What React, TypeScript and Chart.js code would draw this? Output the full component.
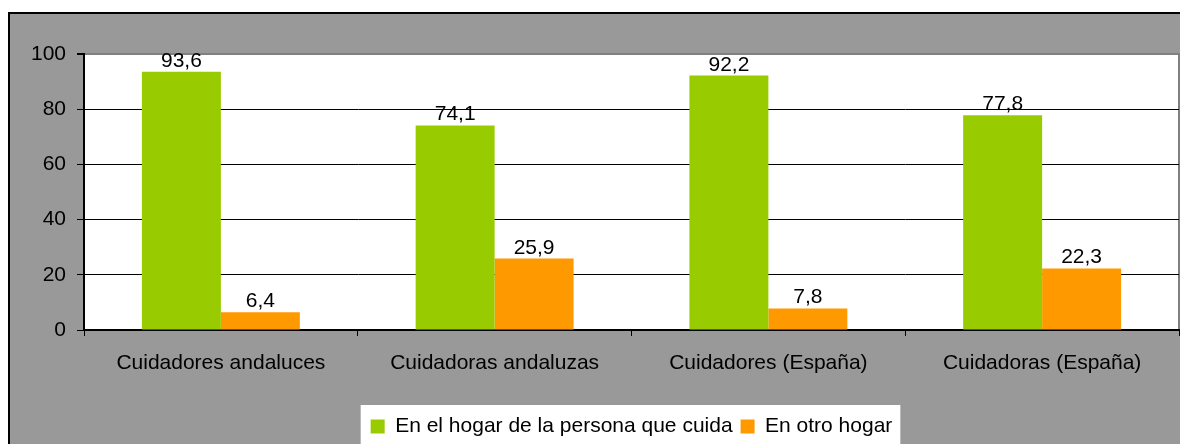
import React, { useEffect, useRef } from 'react';
import { Chart, registerables } from 'chart.js';

Chart.register(...registerables);

const categories = ['Cuidadores andaluces', 'Cuidadoras andaluzas', 'Cuidadores (España)', 'Cuidadoras (España)'];
const seriesNames = ['En el hogar de la persona que cuida', 'En otro hogar'];
const hogarPersonaCuida = [93.6, 74.1, 92.2, 77.8];
const otroHogar = [6.4, 25.9, 7.8, 22.3];
const yMin = 0;
const yMax = 100;
const yStep = 20;

const FONT = 'Liberation Sans, Arial, sans-serif';
const GRAY = '#999999';

const bgPlugin = {
  id: 'bgPlugin',
  afterLayout(chart: any) {
    const lg = chart.legend;
    const ca = chart.chartArea;
    if (lg && ca) {
      const d = (ca.left + ca.right) / 2 - (lg.left + lg.right) / 2;
      lg.left += d;
      lg.right += d;
    }
  },
  beforeDraw(chart: any) {
    const ctx = chart.ctx;
    const w = chart.width;
    const h = chart.height;
    ctx.save();
    ctx.fillStyle = '#ffffff';
    ctx.fillRect(0, 0, w, h);
    ctx.fillStyle = GRAY;
    ctx.fillRect(0, 5, w, h - 5);
    ctx.fillStyle = '#000000';
    ctx.fillRect(0, 4, w, 2);
    ctx.fillRect(0, 4, 2, h - 4);
    const ca = chart.chartArea;
    ctx.fillStyle = '#ffffff';
    ctx.fillRect(ca.left, ca.top, ca.right - ca.left, ca.bottom - ca.top);
    ctx.strokeStyle = '#808080';
    ctx.lineWidth = 2;
    ctx.beginPath();
    ctx.moveTo(ca.left, ca.top);
    ctx.lineTo(ca.right, ca.top);
    ctx.lineTo(ca.right, ca.bottom);
    ctx.stroke();
    const lg = chart.legend;
    if (lg && lg.legendHitBoxes && lg.legendHitBoxes.length) {
      const hb = lg.legendHitBoxes;
      const first = hb[0];
      const last = hb[hb.length - 1];
      const left = first.left - 10;
      const right = last.left + last.width + 8;
      const top = first.top - 11;
      ctx.fillStyle = '#ffffff';
      ctx.fillRect(left, top, right - left, h - top);
    }
    ctx.restore();
  },
};

const labelsPlugin = {
  id: 'valueLabels',
  afterDatasetsDraw(chart: any) {
    const ctx = chart.ctx;
    ctx.save();
    ctx.font = `21px ${FONT}`;
    ctx.fillStyle = '#000000';
    ctx.textAlign = 'center';
    ctx.textBaseline = 'alphabetic';
    chart.data.datasets.forEach((ds: any, i: number) => {
      const meta = chart.getDatasetMeta(i);
      meta.data.forEach((el: any, j: number) => {
        const v = ds.data[j];
        const txt = v.toFixed(1).replace('.', ',');
        ctx.fillText(txt, el.x, el.y - 5);
      });
    });
    ctx.restore();
  },
};

export default function App() {
  const ref = useRef<HTMLCanvasElement>(null);

  useEffect(() => {
    if (!ref.current) return;
    const chart = new Chart(ref.current, {
      type: 'bar',
      data: {
        labels: categories,
        datasets: [
          {
            label: seriesNames[0],
            data: hogarPersonaCuida,
            backgroundColor: '#99CC00',
            borderWidth: 0,
            categoryPercentage: 0.577,
            barPercentage: 1,
          },
          {
            label: seriesNames[1],
            data: otroHogar,
            backgroundColor: '#FF9900',
            borderWidth: 0,
            categoryPercentage: 0.577,
            barPercentage: 1,
          },
        ],
      },
      options: {
        responsive: false,
        animation: false,
        events: [],
        layout: { padding: { left: 0, top: 46, right: 9, bottom: 0 } },
        plugins: {
          tooltip: { enabled: false },
          legend: {
            position: 'bottom',
            labels: {
              boxWidth: 14,
              boxHeight: 14,
              padding: 8,
              color: '#000000',
              font: { family: FONT, size: 21 },
            },
          },
        },
        scales: {
          x: {
            afterFit: (s: any) => {
              s.height = 78;
            },
            border: { display: true, color: '#000000', width: 2 },
            grid: {
              offset: true,
              drawOnChartArea: false,
              drawTicks: true,
              tickLength: 6,
              color: '#000000',
              lineWidth: 1,
            },
            ticks: {
              color: '#000000',
              padding: 15,
              font: { family: FONT, size: 21 },
              maxRotation: 0,
            },
          },
          y: {
            min: yMin,
            max: yMax,
            afterFit: (s: any) => {
              s.width = 76;
            },
            border: { display: true, color: '#000000', width: 2 },
            grid: {
              drawTicks: true,
              tickLength: 7,
              tickColor: '#000000',
              color: (c: any) => (c.tick && c.tick.value === yMax ? '#808080' : '#000000'),
              lineWidth: (c: any) => (c.tick && c.tick.value === yMax ? 2 : 1),
            },
            ticks: {
              stepSize: yStep,
              color: '#000000',
              padding: 11,
              font: { family: FONT, size: 21 },
            },
          },
        },
      },
      plugins: [bgPlugin, labelsPlugin],
    } as any);
    return () => chart.destroy();
  }, []);

  return (
    <div style={{ width: 1180, height: 439 }}>
      <canvas ref={ref} width={1180} height={439} style={{ display: 'block' }} />
    </div>
  );
}
